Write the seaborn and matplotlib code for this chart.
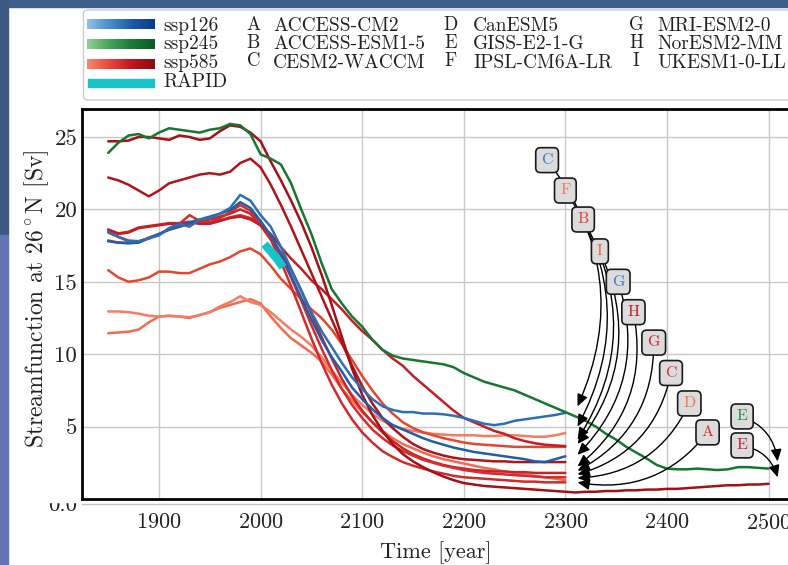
import numpy as np
import pandas as pd
import matplotlib
matplotlib.use("Agg")
import matplotlib.pyplot as plt
import seaborn as sns
from matplotlib.patches import Rectangle, FancyBboxPatch
from matplotlib.colors import LinearSegmentedColormap

# AMOC streamfunction at 26N
years = list(range(1850, 2301, 10))
years_ext = list(range(2310, 2501, 10))

ssp126_C = [18.45, 18.1, 17.8, 17.8, 18.0, 18.2, 18.7, 19.0, 18.8, 19.3,
            19.4, 19.7, 20.1, 21.0, 20.6, 19.6, 18.8, 17.4, 15.9, 14.4,
            12.9, 11.6, 10.5, 9.4, 8.4, 7.6, 6.9, 6.4, 6.15, 6.0,
            6.0, 5.9, 5.9, 5.85, 5.75, 5.6, 5.4, 5.2, 5.1, 5.2,
            5.4, 5.5, 5.6, 5.7, 5.8, 5.95]
ssp126_G = [17.8, 17.7, 17.65, 17.7, 18.0, 18.3, 18.6, 18.8, 19.1, 19.3,
            19.5, 19.7, 19.95, 20.5, 20.1, 19.2, 18.2, 16.9, 15.4, 13.9,
            12.4, 11.0, 9.8, 8.8, 7.7, 6.9, 6.2, 5.6, 5.1, 4.8,
            4.5, 4.2, 3.95, 3.75, 3.55, 3.4, 3.25, 3.15, 3.05, 2.95,
            2.85, 2.75, 2.6, 2.55, 2.75, 2.95]
ssp245_E = [23.9, 24.6, 25.1, 25.2, 24.9, 25.3, 25.6, 25.5, 25.4, 25.3,
            25.5, 25.6, 25.9, 25.8, 25.2, 23.8, 23.5, 23.1, 21.8, 20.0,
            18.3, 16.3, 14.5, 13.5, 12.6, 11.9, 11.0, 10.3, 9.9, 9.7,
            9.6, 9.5, 9.4, 9.3, 9.1, 8.7, 8.4, 8.1, 7.9, 7.7,
            7.5, 7.2, 6.9, 6.6, 6.3, 6.0]
ssp245_E_tail = [5.7, 5.4, 5.0, 4.5, 4.1, 3.6, 3.2, 2.8, 2.35, 2.1,
                 2.05, 2.05, 2.1, 2.05, 2.0, 2.05, 2.2, 2.2, 2.15, 2.1]
ssp585_E = [24.7, 24.7, 24.75, 25.0, 25.0, 24.9, 24.8, 25.1, 25.0, 24.8,
            24.9, 25.4, 25.8, 25.7, 25.3, 24.7, 23.3, 22.0, 20.6, 19.1,
            17.4, 15.5, 13.4, 11.2, 9.0, 7.2, 5.8, 4.7, 3.8, 3.1,
            2.6, 2.2, 1.85, 1.55, 1.3, 1.1, 1.0, 0.9, 0.85, 0.8,
            0.75, 0.7, 0.65, 0.6, 0.55, 0.5]
ssp585_E_tail = [0.45, 0.5, 0.5, 0.55, 0.55, 0.6, 0.6, 0.65, 0.65, 0.7,
                 0.7, 0.75, 0.8, 0.85, 0.9, 0.95, 0.95, 1.0, 1.0, 1.05]
ssp585_H = [22.2, 22.0, 21.7, 21.3, 20.9, 21.3, 21.8, 22.0, 22.2, 22.4,
            22.5, 22.4, 22.6, 23.2, 23.5, 22.9, 21.7, 20.3, 18.8, 17.2,
            15.6, 14.0, 12.4, 10.8, 9.2, 7.8, 6.6, 5.6, 4.9, 4.3,
            3.8, 3.45, 3.2, 3.0, 2.85, 2.75, 2.7, 2.65, 2.6, 2.6,
            2.55, 2.55, 2.55, 2.55, 2.55, 2.55]
ssp585_B = [18.6, 18.3, 18.4, 18.7, 18.8, 18.9, 19.0, 19.0, 19.1, 19.0,
            19.0, 19.2, 19.4, 19.5, 19.3, 18.9, 18.3, 17.4, 16.6, 15.9,
            15.1, 14.5, 13.8, 13.1, 12.3, 11.6, 11.0, 10.3, 9.7, 9.2,
            8.5, 7.9, 7.3, 6.7, 6.1, 5.6, 5.3, 5.0, 4.7, 4.5,
            4.2, 4.0, 3.85, 3.75, 3.7, 3.65]
ssp585_C = [18.4, 18.1, 17.85, 17.8, 18.0, 18.25, 18.7, 19.0, 19.6, 19.2,
            19.1, 19.4, 19.8, 20.3, 19.9, 19.1, 18.1, 16.8, 15.3, 13.7,
            12.0, 10.4, 8.9, 7.6, 6.5, 5.6, 4.8, 4.2, 3.7, 3.3,
            3.0, 2.7, 2.5, 2.3, 2.15, 2.0, 1.9, 1.8, 1.75, 1.7,
            1.65, 1.6, 1.55, 1.5, 1.5, 1.5]
ssp585_G = [17.85, 17.7, 17.7, 17.75, 18.05, 18.3, 18.6, 18.8, 19.0, 19.2,
            19.3, 19.5, 19.7, 20.0, 19.7, 18.9, 18.0, 17.0, 15.8, 14.4,
            12.8, 11.2, 9.7, 8.3, 7.1, 6.1, 5.3, 4.6, 4.0, 3.5,
            3.1, 2.8, 2.55, 2.35, 2.2, 2.1, 2.0, 1.95, 1.9, 1.9,
            1.85, 1.85, 1.8, 1.8, 1.8, 1.8]
ssp585_A = [18.6, 18.35, 18.45, 18.75, 18.85, 18.95, 19.05, 19.05, 19.15, 19.05,
            19.05, 19.25, 19.45, 19.6, 19.4, 18.9, 17.9, 16.4, 14.7, 12.9,
            11.1, 9.4, 7.9, 6.6, 5.5, 4.6, 3.9, 3.3, 2.9, 2.55,
            2.3, 2.1, 1.9, 1.75, 1.6, 1.5, 1.45, 1.4, 1.35, 1.3,
            1.25, 1.2, 1.2, 1.15, 1.15, 1.15]
ssp585_I = [15.8, 15.3, 15.0, 15.1, 15.3, 15.7, 15.7, 15.6, 15.6, 15.9,
            16.2, 16.4, 16.7, 17.1, 17.3, 16.9, 16.1, 15.2, 14.5, 13.8,
            13.1, 12.5, 11.7, 10.7, 9.6, 8.5, 7.5, 6.6, 5.9, 5.3,
            4.9, 4.6, 4.4, 4.2, 4.05, 3.9, 3.8, 3.75, 3.7, 3.65,
            3.6, 3.6, 3.6, 3.6, 3.6, 3.6]
ssp585_F = [12.95, 12.95, 12.9, 12.8, 12.65, 12.6, 12.65, 12.6, 12.55, 12.7,
            12.9, 13.3, 13.6, 14.0, 13.6, 13.4, 12.9, 12.3, 11.7, 11.2,
            10.6, 9.8, 8.9, 8.0, 7.2, 6.5, 5.9, 5.4, 5.1, 4.85,
            4.7, 4.6, 4.5, 4.45, 4.4, 4.4, 4.4, 4.35, 4.35, 4.4,
            4.4, 4.35, 4.3, 4.3, 4.4, 4.55]
ssp585_D = [11.45, 11.5, 11.55, 11.7, 12.2, 12.6, 12.65, 12.6, 12.5, 12.7,
            12.9, 13.2, 13.4, 13.6, 13.8, 13.5, 12.6, 11.8, 11.1, 10.6,
            10.1, 9.5, 8.6, 7.6, 6.8, 6.0, 5.3, 4.7, 4.2, 3.8,
            3.5, 3.2, 2.95, 2.75, 2.6, 2.45, 2.3, 2.15, 2.05, 1.9,
            1.8, 1.7, 1.6, 1.5, 1.4, 1.3]

rapid_years = [2004, 2010, 2016, 2022]
rapid_sv = [17.6, 17.1, 16.6, 16.0]

scenario_labels = ["ssp126", "ssp245", "ssp585", "RAPID"]
model_letters = ["A", "B", "C", "D", "E", "F", "G", "H", "I"]
model_names = ["ACCESS-CM2", "ACCESS-ESM1-5", "CESM2-WACCM", "CanESM5",
               "GISS-E2-1-G", "IPSL-CM6A-LR", "MRI-ESM2-0", "NorESM2-MM",
               "UKESM1-0-LL"]

# end-of-run labels: letter, colour, box centre, arrow tip (data coords)
end_letters = ["C", "F", "B", "I", "G", "H", "G", "C", "D", "A", "E", "E"]
end_colors = ["#3d7cc2", "#f47a5e", "#e03b3b", "#ee6650", "#3d7cc2", "#c0202a",
              "#cc2a33", "#d8353c", "#f27057", "#d63038", "#2e8b40", "#c21f2a"]
box_xy = [(2282, 23.4), (2300, 21.3), (2317.5, 19.3), (2334, 17.1), (2352, 15.0),
          (2367, 12.9), (2387, 10.8), (2404, 8.7), (2422, 6.6), (2440, 4.6),
          (2474, 5.7), (2474, 3.7)]
tip_xy = [(2312, 6.4), (2312, 5.0), (2312, 4.1), (2312, 3.8), (2312, 3.05),
          (2312, 2.25), (2312, 1.95), (2312, 1.7), (2312, 1.45), (2312, 1.15),
          (2509, 2.6), (2509, 1.5)]


def main():
    sns.set_theme(style="whitegrid")
    plt.rcParams["font.family"] = ["cmr10", "DejaVu Serif"]
    plt.rcParams["mathtext.fontset"] = "cm"
    plt.rcParams["axes.unicode_minus"] = False
    plt.rcParams["axes.formatter.use_mathtext"] = True

    W, H = 788, 565
    fig = plt.figure(figsize=(W / 100, H / 100), dpi=100, facecolor="white")

    # overlay in pixel coordinates for the frame, legend box and odd bits
    lax = fig.add_axes([0, 0, 1, 1], zorder=-1)
    lax.axis("off")

    ax = fig.add_axes([82 / W, (H - 499) / H, 717 / W, 390 / H])
    ax.set_facecolor("white")

    runs = [
        ("D585", years, ssp585_D, "#f26b50"),
        ("F585", years, ssp585_F, "#f47c60"),
        ("I585", years, ssp585_I, "#e4472f"),
        ("A585", years, ssp585_A, "#d02a2c"),
        ("G585", years, ssp585_G, "#cc2228"),
        ("C585", years, ssp585_C, "#d62c2c"),
        ("B585", years, ssp585_B, "#c41e25"),
        ("H585", years, ssp585_H, "#b0141b"),
        ("E585", years + years_ext, ssp585_E + ssp585_E_tail, "#a50f15"),
        ("G126", years, ssp126_G, "#1f5ea8"),
        ("C126", years, ssp126_C, "#2c6fb7"),
        ("E245", years + years_ext, ssp245_E + ssp245_E_tail, "#17762f"),
    ]
    rows = []
    for name, xs, ys, _ in runs:
        rows += [(name, x, y) for x, y in zip(xs, ys)]
    df = pd.DataFrame(rows, columns=["run", "year", "sv"])
    palette = {name: c for name, _, _, c in runs}

    sns.lineplot(data=df, x="year", y="sv", hue="run",
                 hue_order=[r[0] for r in runs], palette=palette,
                 estimator=None, legend=False, lw=1.8, ax=ax, zorder=3)
    sns.lineplot(x=rapid_years, y=rapid_sv, color="#16c4c9", lw=6,
                 solid_capstyle="butt", ax=ax, zorder=4)

    # arrows first, boxes on top of every arrow
    for (bx, by), (tx, ty) in zip(box_xy, tip_xy):
        ax.annotate("", xy=(tx, ty), xytext=(bx, by),
                    arrowprops=dict(arrowstyle="-|>,head_length=0.55,head_width=0.25",
                                    connectionstyle="arc3,rad=-0.3",
                                    color="black", lw=1.0, mutation_scale=13,
                                    shrinkA=0, shrinkB=0),
                    zorder=5)
    for letter, col, (bx, by) in zip(end_letters, end_colors, box_xy):
        ax.text(bx, by, letter, ha="center", va="center", color=col,
                fontsize=11.5, zorder=6,
                bbox=dict(boxstyle="round,pad=0.35,rounding_size=0.3",
                          fc="#dcdcdc", ec="#1a1a1a", lw=1.2))

    ax.set_xlim(1824.2, 2530)
    ax.set_ylim(0, 26.93)
    ax.set_xticks(range(1900, 2501, 100))
    ax.set_yticks([0, 5, 10, 15, 20, 25])
    ax.set_yticklabels(["", "5", "10", "15", "20", "25"])
    ax.grid(True, color="#c8c8c8", lw=1.0)
    ax.set_axisbelow(True)
    for s in ["left", "top", "bottom"]:
        ax.spines[s].set_color("black")
        ax.spines[s].set_linewidth(2.0)
    ax.spines["right"].set_visible(False)
    ax.tick_params(axis="x", direction="in", length=8, width=2, pad=10,
                   labelsize=16, colors="black", labelcolor="#222222")
    ax.tick_params(axis="y", direction="in", length=8, width=2, pad=3.5,
                   labelsize=16.5, colors="black", labelcolor="#222222")
    ax.set_xlabel("Time [year]", fontsize=16, color="#222222", va="center")
    ax.set_ylabel(r"Streamfunction at 26$^\circ$N [Sv]", fontsize=17,
                  color="#222222", va="center")
    ax.xaxis.set_label_coords((436 - 82) / 717, (499 - 553) / 390)
    ax.yaxis.set_label_coords((37 - 82) / 717, (499 - 299) / 390)

    # ---- overlay: slide frame, half-hidden zero label, legend ----
    lax.add_patch(Rectangle((0, 0), W, 7, color="#3b5e8c", zorder=1))
    lax.add_patch(Rectangle((0, 0), 8, 235, color="#3e5a82", zorder=1))
    lax.add_patch(Rectangle((0, 235), 8, H - 235, color="#6474b6", zorder=1))
    lax.text(77, 505, "0.0", ha="right", va="center", fontsize=16.5,
             color="#222222", zorder=2)
    lax.add_patch(Rectangle((36, 484), 44.5, 17.5, color="white", zorder=3))
    lax.plot([82, W], [503.8, 503.8], color="#c4c4c4", lw=1.0, zorder=2)

    lax.add_patch(FancyBboxPatch((83.5, 10), 720, 90,
                                 boxstyle="round,pad=0,rounding_size=4",
                                 fc="white", ec="#cccccc", lw=1.0, zorder=2))
    ramps = [["#92c3e4", "#4a8ccc", "#1a5aa8", "#0a3a88"],
             ["#8fd18f", "#47a35a", "#1a7a3a", "#0b5a24"],
             ["#f78a6e", "#e8463a", "#c0141c", "#8c0a12"]]
    bar_mid = [24.3, 43.7, 63.8]
    grad = np.linspace(0, 1, 256)[None, :]
    for cols, ym in zip(ramps, bar_mid):
        cm = LinearSegmentedColormap.from_list("ramp", cols)
        lax.imshow(grad, extent=(87, 155, ym + 5, ym - 5), cmap=cm,
                   aspect="auto", interpolation="bilinear", zorder=3)
    lax.add_patch(Rectangle((88, 79), 66, 8, color="#16c4c9", zorder=3))
    for lab, yb in zip(scenario_labels, [31, 49, 67.5, 87]):
        lax.text(163, yb, lab, ha="left", va="baseline", fontsize=14,
                 color="#222222", zorder=4)

    col_letter_x = [253.5, 451, 636]
    col_name_x = [273, 473, 657]
    row_base = [31, 49, 67.5]
    for i, (let, name) in enumerate(zip(model_letters, model_names)):
        c, r = divmod(i, 3)
        lax.text(col_letter_x[c], row_base[r] - 1.5, let, ha="center",
                 va="baseline", fontsize=13.5, color="#222222", zorder=4)
        lax.text(col_name_x[c], row_base[r], name, ha="left", va="baseline",
                 fontsize=14, color="#222222", zorder=4)

    lax.set_xlim(0, W)
    lax.set_ylim(H, 0)

    fig.savefig("out.png", dpi=100, facecolor="white")


if __name__ == "__main__":
    main()
